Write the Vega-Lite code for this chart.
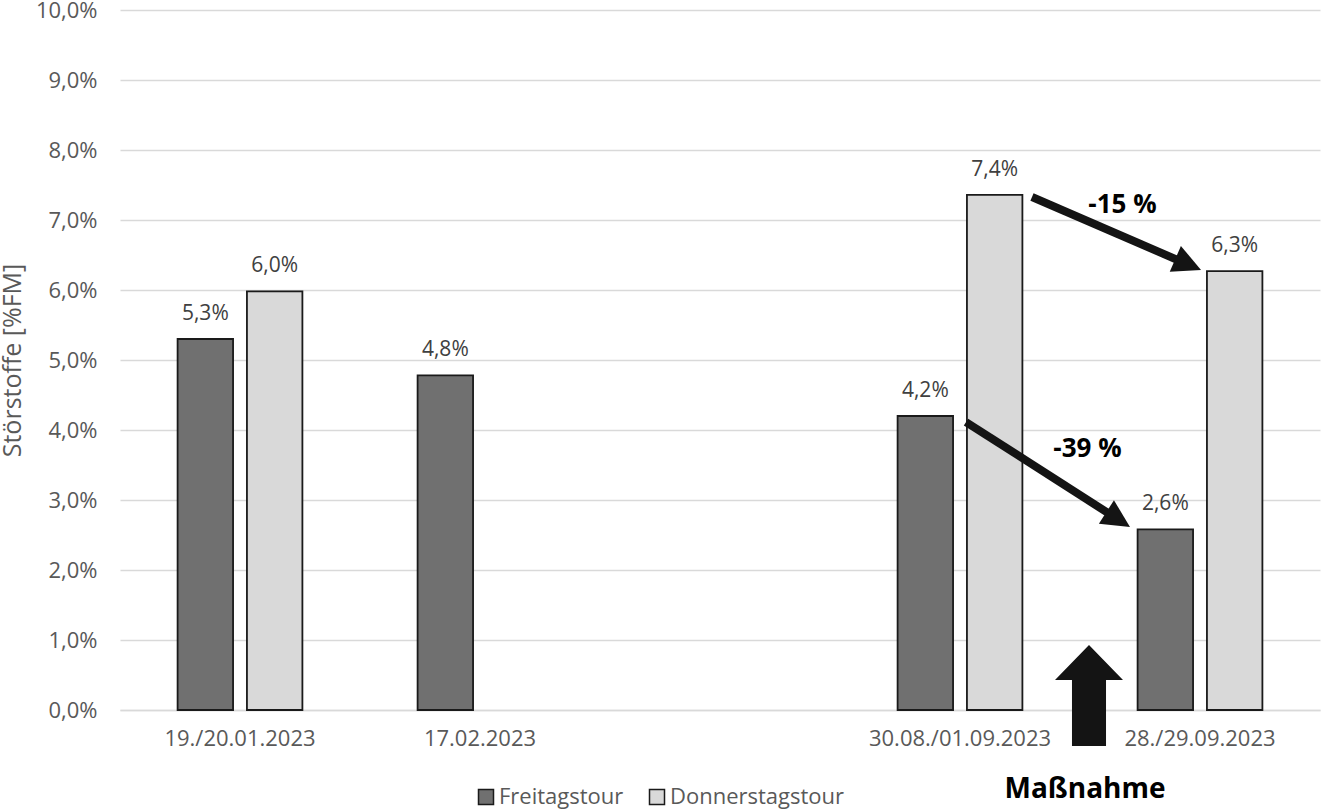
{
  "$schema": "https://vega.github.io/schema/vega-lite/v6.json",
  "width": 1200,
  "height": 700,
  "autosize": {"type": "none"},
  "padding": {"left": 120, "top": 10, "right": 3, "bottom": 100},
  "background": "white",
  "config": {
    "font": "Open Sans",
    "view": {"stroke": null},
    "locale": {"number": {"decimal": ",", "thousands": ".", "grouping": [3], "currency": ["", " €"]}}
  },
  "datasets": {
    "bars": [
      {"cat": "19./20.01.2023", "tour": "Freitagstour", "v": 0.053},
      {"cat": "19./20.01.2023", "tour": "Donnerstagstour", "v": 0.0598},
      {"cat": "17.02.2023", "tour": "Freitagstour", "v": 0.0478},
      {"cat": "30.08./01.09.2023", "tour": "Freitagstour", "v": 0.042},
      {"cat": "30.08./01.09.2023", "tour": "Donnerstagstour", "v": 0.0736},
      {"cat": "28./29.09.2023", "tour": "Freitagstour", "v": 0.0258},
      {"cat": "28./29.09.2023", "tour": "Donnerstagstour", "v": 0.0627}
    ],
    "arrows": [
      {"arrow": "Donnerstag", "pos": 3.8, "v": 0.07329, "pos2": 4.4167, "v2": 0.06414},
      {"arrow": "Freitag", "pos": 3.525, "v": 0.04114, "pos2": 4.1275, "v2": 0.02791}
    ],
    "heads": [
      {"arrow": "Donnerstag", "pos": 4.4508, "v": 0.06366},
      {"arrow": "Freitag", "pos": 4.1592, "v": 0.02721}
    ],
    "measure": [
      {"pos": 4.0375, "v": 0.00207}
    ],
    "notes": [
      {"kind": "change", "txt": "-15 %", "pos": 4.177, "v": 0.071},
      {"kind": "change", "txt": "-39 %", "pos": 4.031, "v": 0.03614},
      {"kind": "measure", "txt": "Maßnahme", "pos": 4.021, "v": -0.01257}
    ]
  },
  "layer": [
    {
      "data": {"name": "bars"},
      "encoding": {
        "x": {
          "field": "cat",
          "type": "nominal",
          "sort": null,
          "scale": {
            "domain": ["19./20.01.2023", "17.02.2023", "", "30.08./01.09.2023", "28./29.09.2023"],
            "paddingInner": 0.48,
            "paddingOuter": 0.24
          },
          "axis": {
            "title": null,
            "labelAngle": 0,
            "labelFontSize": 22,
            "labelColor": "#595959",
            "labelPadding": 18,
            "labelLimit": 300,
            "ticks": false,
            "domainColor": "#d9d9d9",
            "domainWidth": 1.5,
            "grid": false
          }
        },
        "xOffset": {
          "field": "tour",
          "type": "nominal",
          "scale": {"domain": ["Freitagstour", "Donnerstagstour"], "paddingInner": 0.2, "paddingOuter": 0}
        },
        "y": {
          "field": "v",
          "type": "quantitative",
          "scale": {"domain": [0, 0.1], "nice": false, "zero": true},
          "axis": {
            "title": "Störstoffe [%FM]",
            "titleFontSize": 25,
            "titleFontWeight": "normal",
            "titleColor": "#595959",
            "titleAngle": -90,
            "titleX": -108,
            "titleY": 350,
            "titleAlign": "center",
            "titleBaseline": "middle",
            "values": [0, 0.01, 0.02, 0.03, 0.04, 0.05, 0.06, 0.07, 0.08, 0.09, 0.1],
            "format": ".1%",
            "labelFontSize": 22,
            "labelColor": "#595959",
            "labelPadding": 23,
            "ticks": false,
            "domain": false,
            "gridColor": "#d9d9d9",
            "gridWidth": 1.5
          }
        }
      },
      "layer": [
        {
          "mark": {"type": "bar", "stroke": "#1a1a1a", "strokeWidth": 1.8},
          "encoding": {
            "color": {
              "field": "tour",
              "type": "nominal",
              "scale": {"domain": ["Freitagstour", "Donnerstagstour"], "range": ["#707070", "#d9d9d9"]},
              "legend": {
                "title": null,
                "orient": "none",
                "direction": "horizontal",
                "legendX": 355,
                "legendY": 776,
                "padding": 0,
                "symbolType": "square",
                "symbolSize": 225,
                "symbolStrokeColor": "#1a1a1a",
                "symbolStrokeWidth": 1.5,
                "symbolOpacity": 1,
                "labelFontSize": 22,
                "labelColor": "#595959",
                "labelOffset": 2,
                "labelLimit": 400,
                "columnPadding": 22
              }
            }
          }
        },
        {
          "mark": {"type": "text", "baseline": "alphabetic", "dy": -19, "fontSize": 21, "color": "#404040"},
          "encoding": {"text": {"field": "v", "type": "quantitative", "format": ".1%"}}
        }
      ]
    },
    {
      "encoding": {
        "x": {"field": "pos", "type": "quantitative", "scale": {"domain": [0, 5], "nice": false, "zero": false}, "axis": null},
        "y": {"field": "v", "type": "quantitative"}
      },
      "layer": [
        {
          "data": {"name": "arrows"},
          "mark": {"type": "rule", "color": "#141414", "strokeWidth": 8, "strokeCap": "butt"},
          "encoding": {"x2": {"field": "pos2"}, "y2": {"field": "v2"}}
        },
        {
          "data": {"name": "heads"},
          "transform": [{"filter": "datum.arrow === 'Donnerstag'"}],
          "mark": {"type": "point", "shape": "M1,0L-1,-1L-1,1Z", "size": 784, "filled": true, "color": "#141414", "opacity": 1, "angle": 23.4}
        },
        {
          "data": {"name": "heads"},
          "transform": [{"filter": "datum.arrow === 'Freitag'"}],
          "mark": {"type": "point", "shape": "M1,0L-1,-1L-1,1Z", "size": 784, "filled": true, "color": "#141414", "opacity": 1, "angle": 32.6}
        },
        {
          "data": {"name": "measure"},
          "mark": {"type": "point", "shape": "M0,-1L0.673,-0.307L0.337,-0.307L0.337,1L-0.337,1L-0.337,-0.307L-0.673,-0.307Z", "size": 10201, "filled": true, "color": "#141414", "opacity": 1}
        },
        {
          "data": {"name": "notes"},
          "transform": [{"filter": "datum.kind === 'change'"}],
          "mark": {"type": "text", "fontSize": 26, "fontWeight": "bold", "color": "#000000", "baseline": "alphabetic", "align": "center"},
          "encoding": {"text": {"field": "txt"}}
        },
        {
          "data": {"name": "notes"},
          "transform": [{"filter": "datum.kind === 'measure'"}],
          "mark": {"type": "text", "fontSize": 28, "fontWeight": "bold", "color": "#000000", "baseline": "alphabetic", "align": "center"},
          "encoding": {"text": {"field": "txt"}}
        }
      ]
    }
  ],
  "resolve": {"scale": {"x": "independent"}}
}
